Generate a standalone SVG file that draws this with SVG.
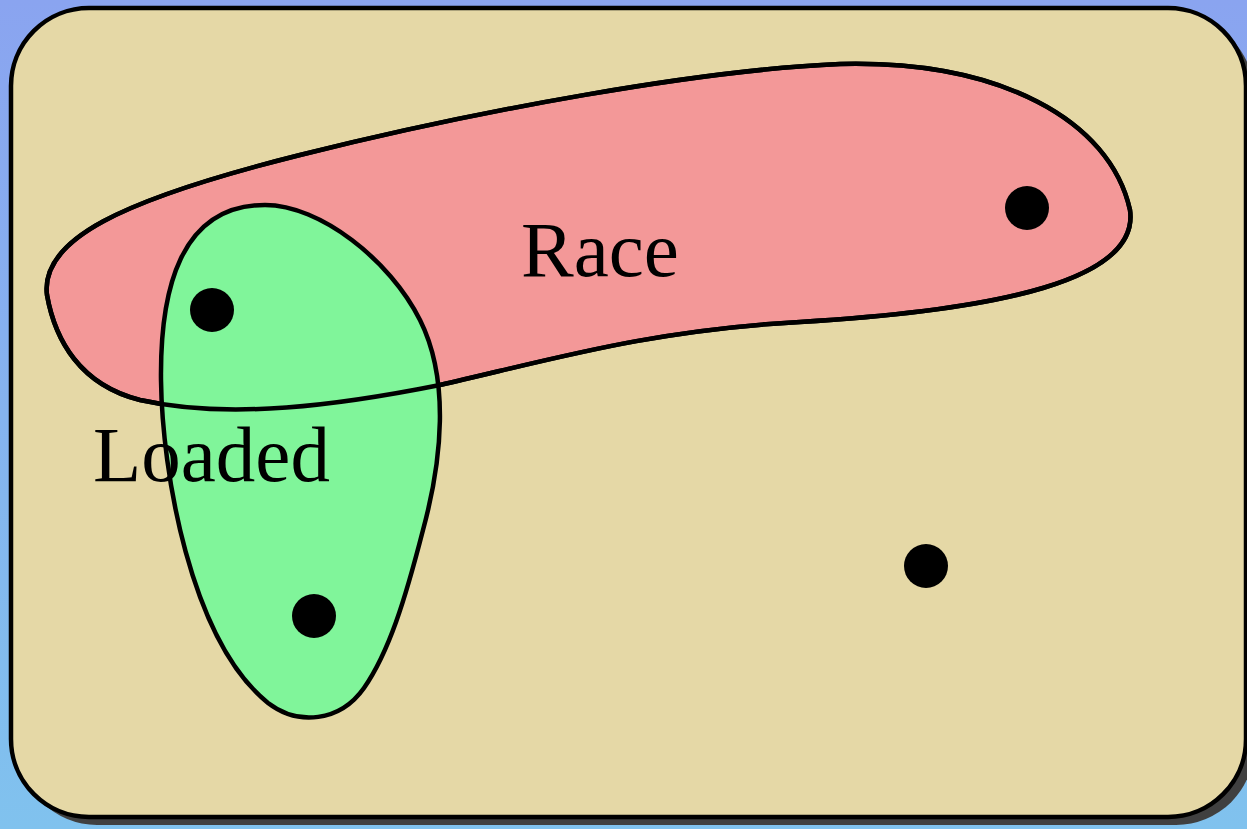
<svg xmlns="http://www.w3.org/2000/svg" width="1247" height="829" viewBox="0 0 1247 829">
<defs>
<linearGradient id="bg" x1="0" y1="0" x2="0" y2="1">
<stop offset="0" stop-color="#8aa4f0"/>
<stop offset="1" stop-color="#80c2ee"/>
</linearGradient>
<path id="racePath" d="M 47 295 C 40 240, 120 200, 300 155 S 700 70, 840 64 C 1000 60, 1110 120, 1130 210 C 1140 280, 1000 310, 800 322 C 650 330, 550 360, 440 385 C 340 405, 230 420, 140 400 C 80 385, 55 340, 47 295 Z"/>
</defs>
<style>
.outline{stroke:#000;stroke-width:4.5;}
.lbl{font-family:"Liberation Serif","Times New Roman",serif;font-size:79px;fill:#000;}
.dot{fill:#000;}
</style>
<rect width="1247" height="829" fill="url(#bg)"/>
<rect x="19" y="16" width="1235" height="809" rx="78" fill="#404040"/>
<rect id="universe" x="11" y="8" width="1235" height="809" rx="78" fill="#e5d8a6" class="outline"/>
<g id="race">
<use href="#racePath" fill="#f39898" class="outline"/>
</g>
<g id="loaded">
<path d="M 265 205 C 180 205, 160 290, 161 380 C 162 470, 190 640, 268 703 C 298 726, 340 722, 364 688 C 389 652, 405 600, 423 530 C 442 460, 450 380, 420 320 C 390 260, 320 205, 265 205 Z" fill="#80f59a" class="outline"/>
</g>
<g id="race-outline">
<use href="#racePath" fill="none" class="outline"/>
</g>
<text class="lbl" x="521" y="276">Race</text>
<text class="lbl" x="93" y="481">Loaded</text>
<g id="points">
<circle class="dot" cx="212" cy="310" r="22"/>
<circle class="dot" cx="314" cy="616" r="22"/>
<circle class="dot" cx="1027" cy="208" r="22"/>
<circle class="dot" cx="926" cy="566" r="22"/>
</g>
</svg>
